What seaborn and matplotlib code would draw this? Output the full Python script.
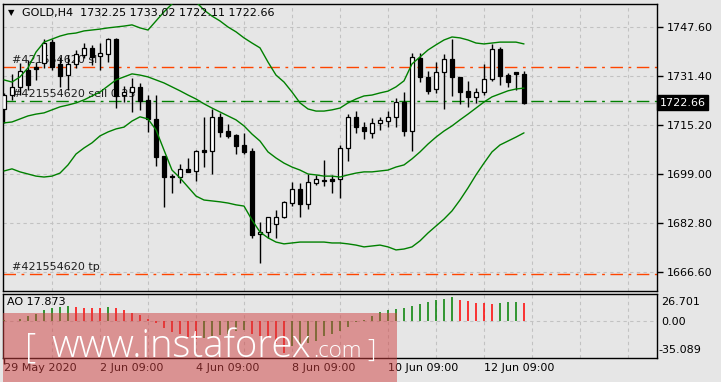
import numpy as np
import pandas as pd
import matplotlib
matplotlib.use("Agg")
import matplotlib.pyplot as plt
import matplotlib.transforms as mtrans
from matplotlib.patches import Rectangle
import seaborn as sns

# ---------------- data ----------------
opens = [1720.6, 1725.2, 1727.9, 1733.5, 1734.5, 1735.8, 1742.7, 1735.5, 1731.8, 1735.5,
         1738.5, 1740.8, 1738.1, 1738.8, 1743.7, 1725.2, 1726.2, 1727.9, 1723.6, 1717.3,
         1705.1, 1698.4, 1698.1, 1700.8, 1700.1, 1707.0, 1706.7, 1718.0, 1713.3, 1712.0,
         1708.7, 1706.7, 1679.3, 1679.9, 1682.6, 1684.9, 1689.5, 1694.2, 1689.2, 1696.1,
         1697.1, 1697.5, 1697.5, 1707.7, 1718.0, 1714.6, 1712.7, 1716.0, 1716.6, 1718.0,
         1722.9, 1713.3, 1737.5, 1731.2, 1727.2, 1732.8, 1737.1, 1731.2, 1726.6, 1724.6,
         1726.2, 1730.5, 1740.4, 1731.8, 1732.8, 1732.25]
highs = [1725.9, 1732.2, 1735.8, 1736.8, 1736.1, 1743.7, 1743.7, 1737.8, 1738.5, 1740.1,
         1742.4, 1741.8, 1742.4, 1744.1, 1744.1, 1728.2, 1730.8, 1729.2, 1725.2, 1725.2,
         1705.1, 1699.1, 1702.4, 1704.4, 1707.0, 1718.0, 1720.6, 1719.3, 1715.6, 1712.3,
         1712.7, 1707.7, 1683.2, 1684.9, 1687.2, 1690.2, 1696.5, 1696.1, 1699.1, 1698.8,
         1703.7, 1698.8, 1708.7, 1718.9, 1719.9, 1716.3, 1717.6, 1718.0, 1719.9, 1724.2,
         1726.2, 1739.1, 1739.1, 1733.2, 1736.1, 1738.8, 1743.7, 1731.2, 1729.9, 1727.5,
         1735.5, 1742.1, 1741.1, 1732.5, 1732.8, 1733.02]
lows = [1716.0, 1723.6, 1725.2, 1726.9, 1730.2, 1734.2, 1733.5, 1727.9, 1726.9, 1734.2,
        1737.5, 1735.1, 1733.5, 1736.1, 1720.9, 1722.9, 1719.6, 1720.3, 1713.0, 1701.8,
        1688.2, 1692.8, 1696.1, 1699.8, 1696.8, 1701.4, 1699.1, 1711.3, 1711.0, 1705.7,
        1705.7, 1678.0, 1669.7, 1678.0, 1678.0, 1684.6, 1688.5, 1684.9, 1687.5, 1695.5,
        1695.1, 1692.8, 1691.2, 1703.4, 1712.7, 1710.7, 1711.0, 1713.7, 1714.6, 1714.6,
        1711.7, 1706.7, 1729.5, 1725.6, 1725.9, 1720.6, 1724.9, 1722.3, 1721.3, 1722.6,
        1725.2, 1729.9, 1728.5, 1727.9, 1726.9, 1722.11]
closes = [1725.2, 1727.9, 1733.2, 1728.5, 1733.8, 1742.4, 1734.5, 1731.5, 1735.5, 1738.8,
          1740.8, 1737.8, 1739.1, 1743.7, 1724.9, 1726.2, 1727.9, 1723.2, 1717.3, 1704.7,
          1698.1, 1698.1, 1700.8, 1699.8, 1706.7, 1706.4, 1718.0, 1713.0, 1711.7, 1708.4,
          1706.4, 1678.9, 1679.9, 1684.9, 1684.9, 1689.9, 1694.2, 1689.2, 1696.5, 1697.5,
          1696.9, 1696.8, 1707.7, 1718.0, 1714.6, 1713.3, 1716.0, 1717.0, 1718.0, 1722.9,
          1713.3, 1737.8, 1731.2, 1726.5, 1732.8, 1737.1, 1731.2, 1726.2, 1724.6, 1726.2,
          1730.5, 1740.4, 1731.5, 1729.5, 1732.2, 1722.66]

bb_upper = [1730.2, 1729.5, 1731.2, 1734.2, 1739.4, 1742.7, 1743.7, 1744.7, 1745.4, 1745.7,
            1746.4, 1746.7, 1747.0, 1747.4, 1747.7, 1748.0, 1748.4, 1747.4, 1746.7, 1749.7,
            1752.7, 1755.3, 1757.3, 1758.0, 1756.0, 1753.3, 1751.3, 1749.7, 1747.7, 1746.1,
            1744.1, 1742.4, 1740.8, 1736.1, 1731.8, 1729.5, 1726.2, 1722.6, 1720.6, 1719.9,
            1719.9, 1720.3, 1720.9, 1722.6, 1723.9, 1724.9, 1725.2, 1725.9, 1726.5, 1727.9,
            1729.9, 1735.5, 1737.8, 1740.1, 1741.8, 1743.4, 1744.4, 1744.1, 1743.4, 1742.4,
            1742.1, 1742.4, 1742.7, 1742.7, 1742.7, 1742.1]
bb_middle = [1716.0, 1716.3, 1717.3, 1718.3, 1718.9, 1719.3, 1720.3, 1721.3, 1721.9, 1722.6,
             1723.6, 1724.9, 1726.2, 1728.2, 1730.2, 1731.2, 1732.2, 1731.8, 1731.2, 1730.2,
             1729.2, 1727.9, 1726.6, 1725.2, 1723.9, 1722.3, 1720.9, 1719.6, 1718.3, 1717.0,
             1715.0, 1712.3, 1710.0, 1706.4, 1704.4, 1702.7, 1701.4, 1700.4, 1699.1, 1698.8,
             1698.4, 1698.4, 1698.1, 1698.8, 1699.4, 1699.8, 1699.8, 1700.1, 1700.4, 1701.4,
             1702.1, 1704.1, 1706.4, 1709.0, 1711.3, 1713.3, 1715.0, 1717.0, 1718.9, 1720.9,
             1722.9, 1724.6, 1725.6, 1726.6, 1727.2, 1727.5]
bb_lower = [1700.1, 1700.8, 1699.8, 1699.1, 1698.4, 1698.1, 1698.4, 1699.4, 1702.1, 1705.7,
            1707.7, 1709.4, 1711.7, 1713.0, 1714.0, 1714.6, 1716.6, 1718.0, 1717.3, 1713.7,
            1707.0, 1700.4, 1697.8, 1694.8, 1691.8, 1690.5, 1690.2, 1689.9, 1689.5, 1688.9,
            1688.5, 1683.9, 1679.9, 1678.0, 1676.6, 1676.0, 1676.3, 1676.6, 1676.6, 1676.6,
            1676.6, 1676.3, 1676.3, 1676.0, 1675.6, 1675.0, 1675.3, 1675.6, 1675.0, 1674.0,
            1674.3, 1675.0, 1677.0, 1679.6, 1681.9, 1684.2, 1686.9, 1690.5, 1694.5, 1698.8,
            1702.7, 1706.4, 1708.7, 1710.0, 1711.3, 1712.7]

ao_values = [1.0, 0.6, 2.6, 5.1, 7.4, 10.9, 13.1, 13.8, 14.4, 13.8,
             13.1, 12.8, 12.5, 14.1, 13.1, 10.6, 8.0, 6.1, 1.9, -1.3,
             -6.1, -10.6, -12.5, -15.0, -17.3, -15.7, -14.1, -13.5, -12.5, -9.5,
             -8.5, -12.0, -14.5, -16.5, -20.5, -31.0, -24.0, -22.0, -21.0, -19.0,
             -14.0, -12.5, -9.3, -5.4, -0.3, 1.0, 5.1, 9.0, 10.9, 11.5,
             13.1, 14.7, 17.0, 18.9, 20.5, 21.8, 23.4, 20.5, 19.5, 17.6,
             17.3, 17.0, 17.6, 18.6, 18.9, 17.873]

price_ticks = [1747.60, 1731.40, 1715.20, 1699.00, 1682.80, 1666.60]
date_labels = ["29 May 2020", "2 Jun 09:00", "4 Jun 09:00", "8 Jun 09:00", "10 Jun 09:00", "12 Jun 09:00"]
date_label_bars = [0, 12, 24, 36, 48, 60]
sl_price, sell_price, tp_price, bid_price = 1734.4, 1723.2, 1666.2, 1722.66
ticket = "#421554620"
title = "GOLD,H4  1732.25 1733.02 1722.11 1722.66"
ao_label = "AO 17.873"
ao_max, ao_min = 26.701, -35.089

# ---------------- figure ----------------
sns.set_theme(style="white")
plt.rcParams["font.family"] = ["DejaVu Sans"]

BG = "#e6e6e6"
W, H = 721, 382
fig = plt.figure(figsize=(W / 100, H / 100), dpi=100, facecolor=BG)

def rect(x0, y0, x1, y1):
    return [x0 / W, 1 - y1 / H, (x1 - x0) / W, (y1 - y0) / H]

ax = fig.add_axes(rect(3, 4, 657, 291), facecolor=BG)
ax2 = fig.add_axes(rect(3, 293.5, 657, 357.7), facecolor=BG)

df = pd.DataFrame({"bar": np.arange(len(opens)), "open": opens, "high": highs,
                   "low": lows, "close": closes, "upper": bb_upper,
                   "middle": bb_middle, "lower": bb_lower, "ao": ao_values})

xlim = (-0.125, 81.625)
grid_kw = dict(color="#c2c2c2", lw=0.8, ls=(0, (3, 3)))

# ---- main panel ----
ax.set_xlim(*xlim)
ax.set_ylim(1660.42, 1755.30)
ax.set_xticks(np.arange(6, 82, 6))
ax.grid(True, **grid_kw)
ax.set_axisbelow(True)
ax.tick_params(axis="x", length=0, labelbottom=False)
ax.yaxis.tick_right()
ax.set_yticks(price_ticks)
ax.set_yticklabels([f"{t:.2f}" for t in price_ticks])
ax.tick_params(axis="y", length=4, width=1, color="black", labelsize=8, pad=3,
               labelcolor="black", direction="out", right=True)
for s in ax.spines.values():
    s.set_color("black"); s.set_linewidth(1)

# trade lines
dashdot = (0, (9, 4, 2, 4))
ax.axhline(bid_price, color="#c0c0c0", lw=1, zorder=1)
ax.axhline(sl_price, color="#ff4500", lw=1, ls=dashdot, zorder=1)
ax.axhline(sell_price, color="#008000", lw=1, ls=dashdot, zorder=1)
ax.axhline(tp_price, color="#ff4500", lw=1, ls=dashdot, zorder=1)

tx = mtrans.blended_transform_factory(ax.transAxes, ax.transData)
ax.text(0.014, sl_price + 2.4, f"{ticket} sl", fontsize=8, color="#1e1e1e",
        transform=tx, va="center", zorder=1.5)
ax.text(0.014, sell_price + 2.5, f"{ticket} sell 0.25", fontsize=8, color="#1e1e1e",
        transform=tx, va="center", zorder=1.5)
ax.text(0.014, tp_price + 2.1, f"{ticket} tp", fontsize=8, color="#1e1e1e",
        transform=tx, va="center", zorder=1.5)

# candles
ax.vlines(df["bar"], df["low"], df["high"], color="black", lw=1, zorder=3)
body_bottom = np.minimum(df["open"], df["close"])
body_h = np.maximum(np.abs(df["close"] - df["open"]), 0.15)
body_col = ["white" if c > o else "black" for o, c in zip(df["open"], df["close"])]
ax.bar(df["bar"], body_h, bottom=body_bottom, width=0.62, color=body_col,
       edgecolor="black", linewidth=0.9, zorder=4)

# Bollinger bands
for col in ["upper", "middle", "lower"]:
    sns.lineplot(data=df, x="bar", y=col, ax=ax, color="#008000", lw=1, zorder=5, legend=False)
ax.set_xlabel(""); ax.set_ylabel("")

# bid price box
ax.text(1.004, bid_price, "1722.66", transform=tx, fontsize=8, color="white",
        va="center", ha="left", zorder=10, clip_on=False,
        bbox=dict(boxstyle="square,pad=0.22", fc="black", ec="black"))

# title
fig.text(8 / W, 1 - 12.5 / H, "\u25bc", fontsize=6, color="black", va="center")
fig.text(22 / W, 1 - 13 / H, title, fontsize=8, color="black", va="center")

# ---- AO panel ----
ax2.set_xlim(*xlim)
ax2.set_ylim(ao_min, ao_max)
ax2.set_xticks(np.arange(6, 82, 6))
ax2.grid(True, axis="x", **grid_kw)
ax2.set_axisbelow(True)
ax2.axhline(0, **grid_kw, zorder=0.5)
ax2.set_xticks(date_label_bars, minor=True)
ax2.tick_params(axis="x", which="major", length=0, labelbottom=False)
ax2.tick_params(axis="x", which="minor", length=4, width=1, color="black",
                labelbottom=False, bottom=True, direction="out")
ax2.set_yticks([])
for s in ax2.spines.values():
    s.set_color("black"); s.set_linewidth(1)

ao_arr = np.array(ao_values)
ao_cols = ["#008000"] + ["#008000" if ao_arr[k] > ao_arr[k - 1] else "#ff0000"
                         for k in range(1, len(ao_arr))]
ax2.vlines(df["bar"], 0, df["ao"], colors=ao_cols, lw=1.1, zorder=3)

ax2.text(0.006, 0.86, ao_label, transform=ax2.transAxes, fontsize=8, color="black",
         va="center", ha="left")
for lab, ypx in [("26.701", 302), ("0.00", 322.3), ("-35.089", 350)]:
    fig.text(661 / W if not lab.startswith("-") else 658 / W, 1 - ypx / H, lab,
             fontsize=8, color="black", va="center", ha="left")

tb = mtrans.blended_transform_factory(ax2.transData, ax2.transAxes)
for lab, b in zip(date_labels, date_label_bars):
    ax2.text(b - 0.05, -0.165, lab, transform=tb, fontsize=8, color="black",
             va="center", ha="left", clip_on=False)

# ---- watermark ----
fig.add_artist(Rectangle((3 / W, 0), 394 / W, 69 / H, transform=fig.transFigure,
                         facecolor="#d04040", alpha=0.5, edgecolor="none", zorder=20))
wm_font = ["Open Sans", "DejaVu Sans"]
fig.text(25 / W, 1 - 357 / H, "[", fontsize=25, color="white", family=wm_font,
         fontweight="light", va="baseline", ha="left", zorder=21)
fig.text(51 / W, 1 - 357 / H, "www.instaforex", fontsize=27.5, color="white", family=wm_font,
         fontweight="light", va="baseline", ha="left", zorder=21)
fig.text(313 / W, 1 - 357 / H, ".com", fontsize=16, color="white", family=wm_font,
         fontweight="light", va="baseline", ha="left", zorder=21)
fig.text(367 / W, 1 - 357 / H, "]", fontsize=19, color="white", family=wm_font,
         fontweight="light", va="baseline", ha="left", zorder=21)

fig.savefig("out.png", dpi=100, facecolor=BG)
